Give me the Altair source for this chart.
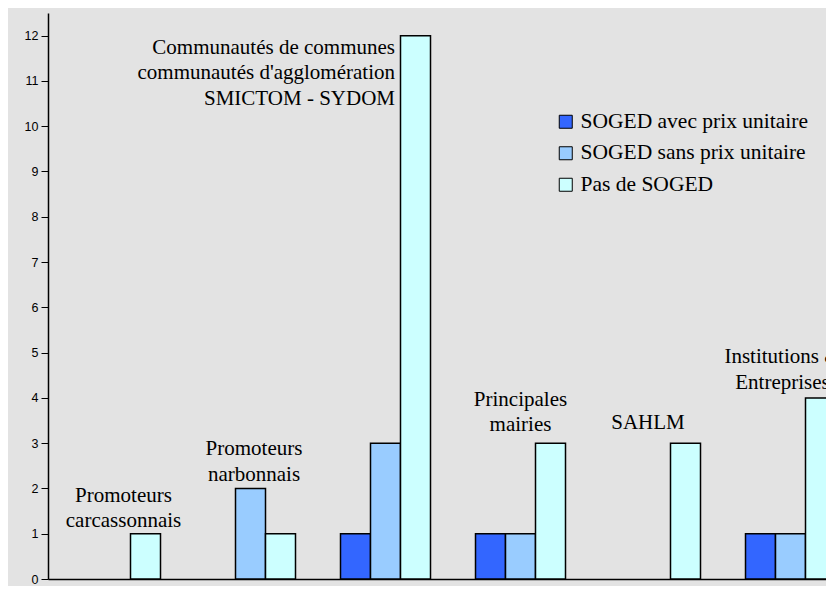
import altair as alt
import pandas as pd

# ---- data ----
groups = [
    "Promoteurs carcassonnais",
    "Promoteurs narbonnais",
    "Communautés de communes communautés d'agglomération SMICTOM - SYDOM",
    "Principales mairies",
    "SAHLM",
    "Institutions & Entreprises",
]
series = ["SOGED avec prix unitaire", "SOGED sans prix unitaire", "Pas de SOGED"]
avec_prix = [0, 0, 1, 1, 0, 1]
sans_prix = [0, 2, 3, 1, 0, 1]
pas_soged = [1, 1, 12, 3, 3, 4]
colors = ["#3366FF", "#99CCFF", "#CCFFFF"]

label_lines = [
    "Promoteurs\ncarcassonnais",
    "Promoteurs\nnarbonnais",
    "Communautés de communes\ncommunautés d'agglomération\nSMICTOM - SYDOM",
    "Principales\nmairies",
    "SAHLM",
    "Institutions &\nEntreprises",
]
label_y = [1.705, 2.73, 11.6, 3.83, 3.32, 4.77]
label_dx = [8, 3.5, 9.5, 0, -7.5, -8]
label_align = ["center", "center", "right", "center", "center", "center"]

SERIF = "Liberation Serif"

rows = []
for i, g in enumerate(groups):
    for s, vals in zip(series, [avec_prix, sans_prix, pas_soged]):
        if vals[i] > 0:
            rows.append({"groupe": g, "serie": s, "valeur": vals[i]})
df = pd.DataFrame(rows)

x_scale = alt.Scale(domain=groups, paddingInner=1 / 3, paddingOuter=1 / 6)
x_enc = alt.X(
    "groupe:N",
    sort=groups,
    scale=x_scale,
    axis=alt.Axis(labels=False, ticks=False, title=None, domainColor="black", domainWidth=1.5),
)
y_scale = alt.Scale(domain=[0, 12.5], nice=False, zero=True)

bars = (
    alt.Chart(df)
    .mark_bar(stroke="black", strokeWidth=1.5)
    .encode(
        x=x_enc,
        xOffset=alt.XOffset("serie:N", sort=series, scale=alt.Scale(domain=series, paddingInner=0, paddingOuter=0)),
        y=alt.Y(
            "valeur:Q",
            scale=y_scale,
            axis=alt.Axis(
                values=list(range(0, 13)),
                title=None,
                grid=False,
                domainColor="black",
                domainWidth=1.5,
                tickColor="black",
                tickSize=7,
                tickWidth=1,
                labelFont="Liberation Sans",
                labelFontSize=12.5,
                labelColor="black",
                labelPadding=3,
            ),
        ),
        color=alt.Color(
            "serie:N",
            sort=series,
            scale=alt.Scale(domain=series, range=colors),
            legend=alt.Legend(
                title=None,
                orient="none",
                legendX=507,
                legendY=98,
                symbolType="square",
                symbolSize=169,
                symbolStrokeColor="black",
                symbolStrokeWidth=1,
                symbolOpacity=1,
                labelFont=SERIF,
                labelFontSize=21.5,
                labelColor="black",
                labelLimit=400,
                labelOffset=4,
                rowPadding=8.5,
                padding=0,
            ),
        ),
    )
)

layers = [bars]
for i in range(len(groups)):
    ldf = pd.DataFrame({"groupe": [groups[i]], "y": [label_y[i]], "txt": [label_lines[i]]})
    t = (
        alt.Chart(ldf)
        .mark_text(
            font=SERIF,
            fontSize=21,
            lineHeight=25.5,
            lineBreak="\n",
            align=label_align[i],
            baseline="alphabetic",
            dx=label_dx[i],
            color="black",
        )
        .encode(x=alt.X("groupe:N", sort=groups, scale=x_scale),
                y=alt.Y("y:Q", scale=y_scale),
                text="txt:N")
    )
    layers.append(t)

chart = (
    alt.layer(*layers)
    .properties(
        width=810,
        height=566,
        autosize=alt.AutoSizeParams(type="none"),
        padding={"left": 40, "top": 5, "right": -32, "bottom": 7},
        background="#e3e3e3",
    )
    .configure_view(stroke=None, fill="#e3e3e3")
)

chart.save("out.html", embed_options={"renderer": "svg", "actions": False})
